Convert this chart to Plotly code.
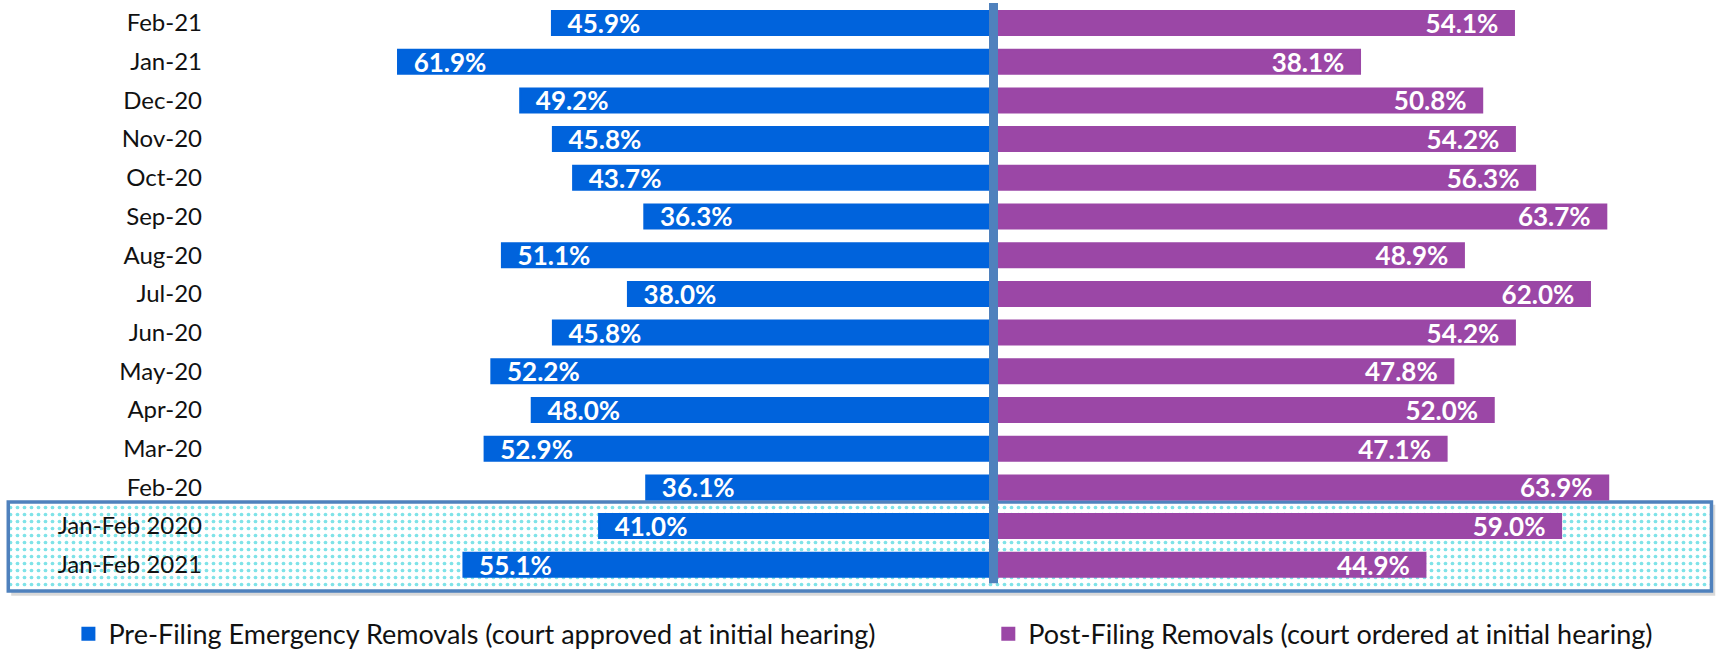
import plotly.graph_objects as go

categories = ["Feb-21", "Jan-21", "Dec-20", "Nov-20", "Oct-20", "Sep-20", "Aug-20",
              "Jul-20", "Jun-20", "May-20", "Apr-20", "Mar-20", "Feb-20",
              "Jan-Feb 2020", "Jan-Feb 2021"]
pre_filing = [45.9, 61.9, 49.2, 45.8, 43.7, 36.3, 51.1, 38.0, 45.8, 52.2, 48.0, 52.9, 36.1, 41.0, 55.1]
post_filing = [54.1, 38.1, 50.8, 54.2, 56.3, 63.7, 48.9, 62.0, 54.2, 47.8, 52.0, 47.1, 63.9, 59.0, 44.9]
series_names = ["Pre-Filing Emergency Removals (court approved at initial hearing)",
                "Post-Filing Removals (court ordered at initial hearing)"]
highlighted = ["Jan-Feb 2020", "Jan-Feb 2021"]

BLUE = "#0063DC"
PURPLE = "#9B47A6"
STEEL = "#4F81BD"
FONT = "Lato"
NB = "\u00a0"

ypos = list(range(len(categories)))
hl_idx = [categories.index(c) for c in highlighted]

fig = go.Figure()

# highlight box (background, full-width subplot)
fig.add_trace(go.Bar(
    x=[0.9885], base=[0.0048], y=[(min(hl_idx) + max(hl_idx)) / 2 + 0.027],
    width=[len(hl_idx) + 0.30], orientation="h",
    xaxis="x", yaxis="y", showlegend=False, hoverinfo="skip",
    marker=dict(color="white",
                pattern=dict(shape=".", fgcolor="#7FE3E8", bgcolor="white",
                             size=7, solidity=0.22, fgopacity=1),
                line=dict(color=STEEL, width=3.5)),
))

fig.add_trace(go.Bar(
    y=ypos, x=[-v for v in pre_filing], orientation="h",
    name=series_names[0], xaxis="x2", yaxis="y", legend="legend",
    marker=dict(color=BLUE, line=dict(color=BLUE, width=2)),
    width=0.62,
    text=[f"{NB}{NB}{v:.1f}%" for v in pre_filing],
    textposition="inside", insidetextanchor="end", textangle=0, constraintext="none",
    textfont=dict(family=FONT, size=26, color="white", weight="bold"),
    hoverinfo="skip",
))
fig.add_trace(go.Bar(
    y=ypos, x=post_filing, orientation="h",
    name=series_names[1], xaxis="x2", yaxis="y", legend="legend2",
    marker=dict(color=PURPLE, line=dict(color=PURPLE, width=2)),
    width=0.62,
    text=[f"{v:.1f}%{NB}{NB}" for v in post_filing],
    textposition="inside", insidetextanchor="end", textangle=0, constraintext="none",
    textfont=dict(family=FONT, size=26, color="white", weight="bold"),
    hoverinfo="skip",
))

legend_common = dict(orientation="h", xanchor="left", y=-0.057, yanchor="middle",
                     font=dict(family=FONT, size=27, color="#111111"),
                     bgcolor="rgba(0,0,0,0)")

fig.update_layout(
    width=1723, height=652,
    margin=dict(l=0, r=0, t=0, b=52, autoexpand=False),
    paper_bgcolor="white", plot_bgcolor="rgba(0,0,0,0)",
    barmode="overlay",
    font=dict(family=FONT, size=24, color="#111111"),
    xaxis=dict(domain=[0, 1], range=[0, 1], visible=False, anchor="y", fixedrange=True),
    xaxis2=dict(domain=[0.119, 1], range=[-81.96, 75.83], visible=False, anchor="y"),
    yaxis=dict(anchor="x2", range=[14.91, -0.594], tickvals=ypos, ticktext=categories,
               showgrid=False, zeroline=False, showline=False, ticks="",
               ticklabelstandoff=2,
               tickfont=dict(family=FONT, size=24, color="#111111")),
    showlegend=True,
    legend=dict(x=0.0397, **legend_common),
    legend2=dict(x=0.5736, **legend_common),
    shapes=[
        # box shadow
        dict(type="rect", xref="x", yref="y", layer="below",
             x0=0.0065, x1=0.9955, y0=min(hl_idx) - 0.55, y1=max(hl_idx) + 0.80,
             fillcolor="rgba(0,0,0,0.15)", line=dict(width=0)),
        # centre divider
        dict(type="line", xref="x2", yref="y", layer="above",
             x0=0, x1=0, y0=-0.517, y1=len(categories) - 1 + 0.475,
             line=dict(color=STEEL, width=9)),
    ],
)

fig.write_html("out.html", config={"displayModeBar": False},
               post_script="document.body.style.margin='0';")
